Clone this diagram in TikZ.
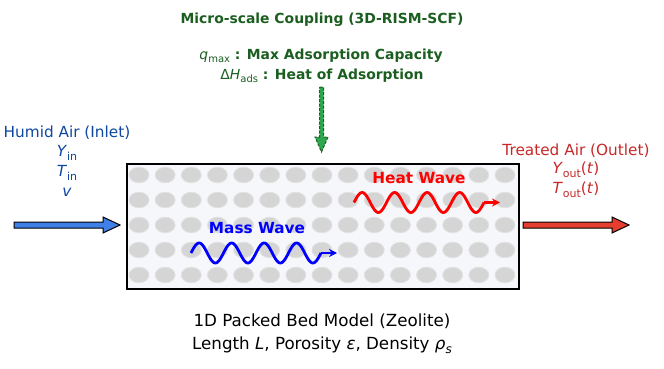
\documentclass[tikz,border=0pt]{standalone}
\usepackage{fontspec}
\setmainfont{DejaVu Sans}
\usetikzlibrary{arrows.meta}
\definecolor{dkgreen}{HTML}{1B5E20}
\definecolor{agreen}{HTML}{2EA84F}
\definecolor{inblue}{HTML}{0D47A1}
\definecolor{outred}{HTML}{C62828}
\definecolor{arrblue}{HTML}{3F7FE8}
\definecolor{arrred}{HTML}{E53E30}
\definecolor{bedfill}{HTML}{F5F7FA}
\definecolor{pellet}{HTML}{D5D5D5}
\tikzset{
  lbl/.style={inner sep=0pt, align=center, font=\fontsize{15.3}{18}\selectfont},
  title/.style={lbl, font=\fontsize{13.9}{16}\selectfont\bfseries, text=dkgreen},
  wlbl/.style={lbl, font=\fontsize{15.3}{18}\selectfont\bfseries},
  btm/.style={lbl, font=\fontsize{16.7}{19}\selectfont},
  pel/.style={fill=pellet, draw=pellet!70!white, line width=0.8pt},
  fat/.style={draw=black, line width=1pt, line join=miter},
}
\newcommand{\mi}[1]{\textit{#1}}
\newcommand{\sbs}[1]{\raisebox{-0.25em}{\scalebox{0.72}{#1}}}
\begin{document}
\begin{tikzpicture}[x=1pt,y=-1pt]
\useasboundingbox (0,0) rectangle (664,369);
% bed
\node[draw=black, line width=2.4pt, fill=bedfill, minimum width=392pt, minimum height=125pt, inner sep=0pt, anchor=north west] (bed) at (126,163) {};
\foreach \r in {0,...,4}{
  \foreach \c in {0,...,14}{
    \path[pel] ({139+\c*26.14},{175+\r*25}) ellipse [x radius=10pt, y radius=7.8pt];
  }
}
% waves
\draw[red, line width=2.8pt] plot[domain=0:130, samples=150, smooth] ({354+\x},{202.5-10*sin(\x*11.0769)});
\coordinate (hw0) at (484,202.5);
\coordinate (hw1) at (500,202.5);
\draw[red, line width=2.2pt, -{Stealth[length=8pt,width=8pt]}] (hw0) -- (hw1);
\draw[blue, line width=2.8pt] plot[domain=0:130, samples=150, smooth] ({191+\x},{253-10*sin(\x*11.0769)});
\coordinate (mw0) at (321,253);
\coordinate (mw1) at (337,253);
\draw[blue, line width=2.2pt, -{Stealth[length=8pt,width=8pt]}] (mw0) -- (mw1);
\node[wlbl, text=red] (hw) at (419,178) {Heat Wave};
\node[wlbl, text=blue] (mw) at (257,228) {Mass Wave};
% inlet arrow
\filldraw[fat, fill=arrblue] (14,222) -- (103,222) -- (103,217) -- (120,225) -- (103,233) -- (103,228) -- (14,228) -- cycle;
% outlet arrow
\filldraw[fat, fill=arrred] (523,222) -- (612,222) -- (612,217) -- (629,225) -- (612,233) -- (612,228) -- (523,228) -- cycle;
% green arrow
\filldraw[draw=dkgreen, fill=agreen, line width=1pt, dash pattern=on 3pt off 1.5pt] (319.5,87) -- (323.5,87) -- (323.5,137) -- (328,137) -- (321.5,152) -- (315,137) -- (319.5,137) -- cycle;
% top texts
\node[title] (t1) at (322,20) {Micro-scale Coupling (3D-RISM-SCF)};
\node[title] (t2) at (321,56) {{\mdseries\mi{q}\sbs{max}} : Max Adsorption Capacity};
\node[title] (t3) at (322,76) {{\mdseries Δ\mi{H}\sbs{ads}} : Heat of Adsorption};
% inlet texts
\node[lbl, text=inblue] (i1) at (67,133) {Humid Air (Inlet)};
\node[lbl, text=inblue] (i2) at (67,153) {\mi{Y}\sbs{in}};
\node[lbl, text=inblue] (i3) at (67,173) {\mi{T}\sbs{in}};
\node[lbl, text=inblue] (i4) at (67,192) {\mi{v}};
% outlet texts
\node[lbl, text=outred] (o1) at (576,151) {Treated Air (Outlet)};
\node[lbl, text=outred] (o2) at (576,170) {\mi{Y}\sbs{out}(\mi{t})};
\node[lbl, text=outred] (o3) at (576,190) {\mi{T}\sbs{out}(\mi{t})};
% bottom
\node[btm] (b1) at (322,321) {1D Packed Bed Model (Zeolite)};
\node[btm] (b2) at (322,345) {Length \mi{L}, Porosity \mi{ε}, Density \mi{ρ}\sbs{\mi{s}}};
\end{tikzpicture}
\end{document}
